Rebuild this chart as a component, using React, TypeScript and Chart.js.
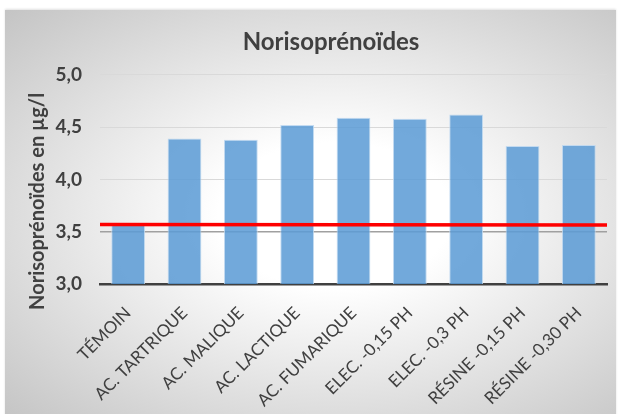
import React, { useEffect, useRef } from "react";
import { Chart, registerables } from "chart.js";

Chart.register(...registerables);

// Treatments (x categories)
const categories = [
  "TÉMOIN",
  "AC. TARTRIQUE",
  "AC. MALIQUE",
  "AC. LACTIQUE",
  "AC. FUMARIQUE",
  "ELEC. -0,15 PH",
  "ELEC. -0,3 PH",
  "RÉSINE -0,15 PH",
  "RÉSINE -0,30 PH",
];

// Norisoprenoid content, µg/l
const values = [3.57, 4.39, 4.38, 4.52, 4.59, 4.58, 4.62, 4.32, 4.33];

// Reference level of the control (left end, right end), drawn across the plot
const controlLevel = [3.57, 3.563];

const yMin = 3.0;
const yMax = 5.0;
const yStep = 0.5;

const titleText = "Norisoprénoïdes";
const yTitleText = "Norisoprénoïdes en µg/l";

const FONT = "Lato, 'Open Sans', 'DejaVu Sans', sans-serif";
const TEXT = "#404040";

// Red control line spanning the full plot width, placed with the y scale
const controlLinePlugin = {
  id: "controlLine",
  afterDatasetsDraw(chart: any) {
    const { ctx, chartArea, scales } = chart;
    const y = scales.y;
    ctx.save();
    ctx.strokeStyle = "#ff0000";
    ctx.lineWidth = 3.5;
    ctx.beginPath();
    ctx.moveTo(chartArea.left, y.getPixelForValue(controlLevel[0]));
    ctx.lineTo(chartArea.right, y.getPixelForValue(controlLevel[1]));
    ctx.stroke();
    ctx.restore();
  },
};

// Vertical axis title
const yTitlePlugin = {
  id: "yTitle",
  afterDraw(chart: any) {
    const { ctx, chartArea } = chart;
    ctx.save();
    ctx.font = `bold 20px ${FONT}`;
    ctx.fillStyle = TEXT;
    ctx.textAlign = "center";
    ctx.textBaseline = "middle";
    ctx.translate(38, (chartArea.top + chartArea.bottom) / 2 + 22);
    ctx.rotate(-Math.PI / 2);
    ctx.fillText(yTitleText, 0, 0);
    ctx.restore();
  },
};

export default function App() {
  const ref = useRef<HTMLCanvasElement | null>(null);

  useEffect(() => {
    if (!ref.current) return;
    const chart = new Chart(ref.current, {
      type: "bar",
      data: {
        labels: categories,
        datasets: [
          {
            data: values,
            backgroundColor: "rgba(91,155,213,0.86)",
            borderColor: "rgba(190,215,240,0.9)",
            borderWidth: 1,
            barPercentage: 0.6,
            categoryPercentage: 1,
          },
        ],
      },
      options: {
        responsive: false,
        animation: false,
        layout: { padding: { left: 55, right: 13, top: 0, bottom: 0 } },
        plugins: {
          legend: { display: false },
          tooltip: { enabled: false },
          title: {
            display: true,
            text: titleText,
            color: TEXT,
            font: { family: FONT, size: 24, weight: "bold" },
            padding: { top: 28, bottom: 18 },
          },
        },
        scales: {
          x: {
            type: "category",
            grid: { display: false, drawTicks: false },
            border: { display: true, color: "#404040", width: 2.5 },
            ticks: {
              color: TEXT,
              font: { family: FONT, size: 17 },
              minRotation: 45,
              maxRotation: 45,
              autoSkip: false,
              padding: 19,
            },
            afterFit(scale: any) {
              scale.height = 130;
            },
          },
          y: {
            min: yMin,
            max: yMax,
            border: { display: false },
            grid: {
              drawTicks: false,
              color: (c: any) =>
                c.tick && Math.abs(c.tick.value - 3.5) < 1e-6
                  ? "#a0a0a0"
                  : c.tick && c.tick.value === yMin
                  ? "rgba(0,0,0,0)"
                  : "#d9d9d9",
              lineWidth: (c: any) =>
                c.tick && Math.abs(c.tick.value - 3.5) < 1e-6 ? 1.5 : 1,
            },
            ticks: {
              stepSize: yStep,
              color: TEXT,
              font: { family: FONT, size: 19, weight: "bold" },
              padding: 18,
              callback: (v: any) => Number(v).toFixed(1).replace(".", ","),
            },
            afterFit(scale: any) {
              scale.width = 45;
            },
          },
        },
      } as any,
      plugins: [controlLinePlugin, yTitlePlugin],
    });
    return () => chart.destroy();
  }, []);

  return (
    <div
      style={{
        position: "fixed",
        left: 0,
        top: 0,
        width: 620,
        height: 414,
        background: "#ffffff",
        overflow: "hidden",
      }}
    >
      <div
        style={{
          position: "absolute",
          left: 5,
          top: 10,
          width: 611,
          height: 410,
          background:
            "radial-gradient(ellipse farthest-corner at 54% 50%, #ffffff 0%, #ffffff 25%, #c4c4c4 100%)",
          boxShadow: "0 -1px 2px rgba(0,0,0,0.12)",
        }}
      />
      <canvas
        ref={ref}
        width={620}
        height={414}
        style={{ position: "absolute", left: 0, top: 0, width: 620, height: 414 }}
      />
    </div>
  );
}
